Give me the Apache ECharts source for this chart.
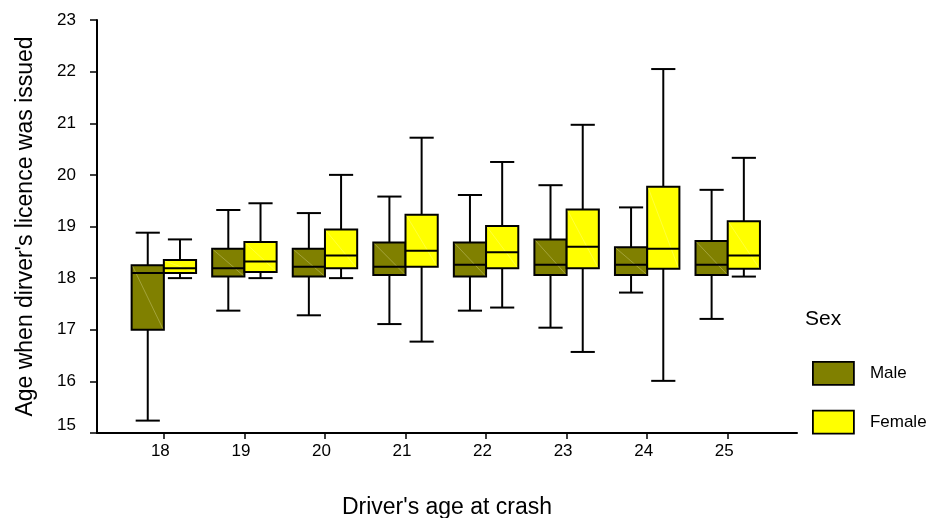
<!DOCTYPE html>
<html>
<head>
<meta charset="utf-8">
<script src="https://cdn.jsdelivr.net/npm/echarts@6/dist/echarts.min.js"></script>
<style>
  html, body { margin: 0; padding: 0; background: #fff; }
  #chart { width: 930px; height: 518px; }
</style>
</head>
<body>
<div id="chart"></div>
<script>
// Driver's age at crash (x categories)
const ages = [18, 19, 20, 21, 22, 23, 24, 25];
// Box statistics per age: [lower whisker, Q1, median, Q3, upper whisker]
const maleStats = [
  [15.24, 17.00, 18.10, 18.25, 18.88],
  [17.37, 18.03, 18.19, 18.57, 19.32],
  [17.28, 18.03, 18.22, 18.57, 19.26],
  [17.11, 18.06, 18.22, 18.69, 19.58],
  [17.37, 18.03, 18.26, 18.69, 19.61],
  [17.04, 18.06, 18.26, 18.75, 19.80],
  [17.72, 18.06, 18.26, 18.60, 19.37],
  [17.21, 18.06, 18.26, 18.72, 19.71]
];
const femaleStats = [
  [18.00, 18.10, 18.19, 18.35, 18.75],
  [18.00, 18.12, 18.32, 18.70, 19.45],
  [18.00, 18.19, 18.44, 18.94, 20.00],
  [16.77, 18.22, 18.53, 19.23, 20.72],
  [17.43, 18.19, 18.50, 19.01, 20.25],
  [16.57, 18.19, 18.61, 19.33, 20.97],
  [16.01, 18.18, 18.57, 19.77, 22.05],
  [18.03, 18.18, 18.44, 19.10, 20.33]
];
const yTicks = [15, 16, 17, 18, 19, 20, 21, 22, 23];

const FONT = 'Liberation Sans, Arial, sans-serif';
const BOX_W = 0.4;   // box width in x units
const CAP_W = 0.3;   // whisker cap width in x units

function rows(stats) {
  return stats.map((s, i) => [ages[i]].concat(s));
}

function boxRenderer(offset, fill) {
  return function (params, api) {
    const x = api.value(0);
    const lo = api.value(1), q1 = api.value(2), med = api.value(3), q3 = api.value(4), hi = api.value(5);
    const x0 = x + offset, x1 = x0 + BOX_W, xc = x0 + BOX_W / 2;
    const tl = api.coord([x0, q3]);
    const br = api.coord([x1, q1]);
    const pHi = api.coord([xc, hi]);
    const pLo = api.coord([xc, lo]);
    const capL = api.coord([xc - CAP_W / 2, hi])[0];
    const capR = api.coord([xc + CAP_W / 2, hi])[0];
    const pMed = api.coord([x0, med]);
    const lineStyle = { stroke: '#000', lineWidth: 2 };
    return {
      type: 'group',
      children: [
        { type: 'line', shape: { x1: pHi[0], y1: pHi[1], x2: pHi[0], y2: tl[1] }, style: lineStyle },
        { type: 'line', shape: { x1: pLo[0], y1: br[1], x2: pLo[0], y2: pLo[1] }, style: lineStyle },
        { type: 'line', shape: { x1: capL, y1: pHi[1], x2: capR, y2: pHi[1] }, style: lineStyle },
        { type: 'line', shape: { x1: capL, y1: pLo[1], x2: capR, y2: pLo[1] }, style: lineStyle },
        { type: 'rect', shape: { x: tl[0], y: tl[1], width: br[0] - tl[0], height: br[1] - tl[1] },
          style: { fill: fill, stroke: '#000', lineWidth: 2 } },
        { type: 'line', shape: { x1: tl[0] + 1, y1: tl[1] + 1, x2: br[0] - 1, y2: br[1] - 1 },
          style: { stroke: 'rgba(255,255,210,0.35)', lineWidth: 0.8 } },
        { type: 'line', shape: { x1: tl[0], y1: pMed[1], x2: br[0], y2: pMed[1] }, style: lineStyle }
      ]
    };
  };
}

const chart = echarts.init(document.getElementById('chart'), null, { renderer: 'canvas' });
chart.setOption({
  backgroundColor: '#fff',
  animation: false,
  textStyle: { fontFamily: FONT },
  grid: { left: 97, right: 133, top: 20, bottom: 85, containLabel: false, outerBoundsMode: 'none' },
  title: {
    text: 'Sex', left: 800, top: 304,
    textStyle: { fontFamily: FONT, fontSize: 21, fontWeight: 'normal', color: '#000' }
  },
  legend: {
    orient: 'vertical', left: 807, top: 356,
    itemWidth: 41, itemHeight: 23, itemGap: 24,
    icon: 'rect',
    textStyle: { fontFamily: FONT, fontSize: 17, color: '#000', padding: [2, 0, 0, 11] },
    data: [
      { name: 'Male', itemStyle: { color: '#808000', borderColor: '#000', borderWidth: 1.8 } },
      { name: 'Female', itemStyle: { color: '#ffff00', borderColor: '#000', borderWidth: 1.8 } }
    ]
  },
  xAxis: {
    type: 'value', min: 17.17, max: 25.86,
    name: "Driver's age at crash", nameLocation: 'middle', nameGap: 63,
    nameTextStyle: { fontFamily: FONT, fontSize: 23, color: '#000' },
    axisLine: { show: true, lineStyle: { color: '#000', width: 2 } },
    axisTick: { show: true, length: 6, lineStyle: { color: '#000', width: 1.5 }, customValues: ages },
    axisLabel: { fontFamily: FONT, fontSize: 17, color: '#000', margin: 10, padding: [0, 7, 0, 0], customValues: ages },
    splitLine: { show: false }
  },
  yAxis: {
    type: 'value', min: 15, max: 23, interval: 1,
    name: "Age when dirver's licence was issued", nameLocation: 'middle', nameGap: 60,
    nameTextStyle: { fontFamily: FONT, fontSize: 23, color: '#000' },
    axisLine: { show: true, lineStyle: { color: '#000', width: 2 } },
    axisTick: { show: true, length: 7, lineStyle: { color: '#000', width: 1.5 }, customValues: yTicks },
    axisLabel: {
      fontFamily: FONT, fontSize: 17, color: '#000', margin: 21, customValues: yTicks,
      // the lowest label sits a little above the x axis line
      formatter: v => (v === yTicks[0] ? '{low|' + v + '}' : String(v)),
      rich: { low: { fontFamily: FONT, fontSize: 17, color: '#000', padding: [0, 0, 16, 0] } }
    },
    splitLine: { show: false }
  },
  series: [
    {
      name: 'Male', type: 'custom', itemStyle: { color: '#808000' },
      renderItem: boxRenderer(-BOX_W, '#808000'),
      encode: { x: 0, y: [1, 2, 3, 4, 5] },
      data: rows(maleStats)
    },
    {
      name: 'Female', type: 'custom', itemStyle: { color: '#ffff00' },
      renderItem: boxRenderer(0, '#ffff00'),
      encode: { x: 0, y: [1, 2, 3, 4, 5] },
      data: rows(femaleStats)
    }
  ]
});
</script>
</body>
</html>
